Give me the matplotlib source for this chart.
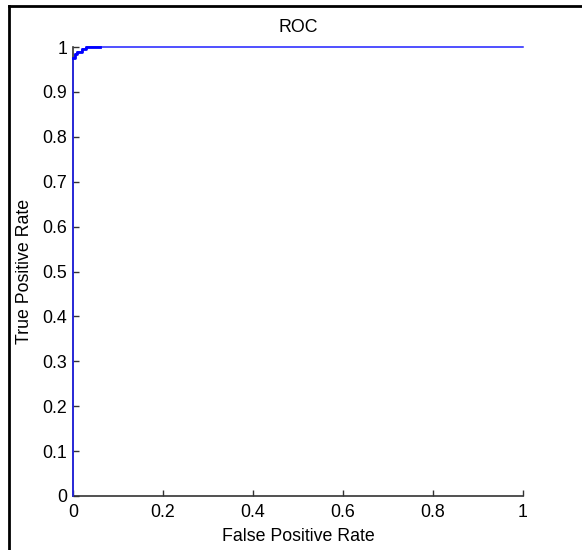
import matplotlib
matplotlib.use('Agg')
import matplotlib.pyplot as plt
from matplotlib.lines import Line2D

plt.rcParams['font.family'] = ['Liberation Sans', 'DejaVu Sans']

# ROC curve points (staircase near the top-left corner)
fpr = [0, 0, 0.005, 0.005, 0.01, 0.01, 0.02, 0.02, 0.03, 0.03, 0.06, 1]
tpr = [0, 0.975, 0.975, 0.985, 0.985, 0.99, 0.99, 0.995, 0.995, 1, 1, 1]

x_ticks = [0, 0.2, 0.4, 0.6, 0.8, 1]
y_ticks = [0, 0.1, 0.2, 0.3, 0.4, 0.5, 0.6, 0.7, 0.8, 0.9, 1]

fs = 12.8

fig = plt.figure(figsize=(5.82, 5.5), dpi=100)
ax = fig.add_axes([0.1254, 0.0982, 0.7732, 0.8163])

ax.plot(fpr, tpr, color='#2020ff', lw=1.1, zorder=3, clip_on=False)
# thicker staircase near the corner
ax.plot(fpr[1:-1], tpr[1:-1], color='#0000ff', lw=2.0, zorder=3, clip_on=False)

ax.set_xlim(0, 1)
ax.set_ylim(0, 1)
ax.set_xticks(x_ticks)
ax.set_yticks(y_ticks)
ax.set_xticklabels(['%g' % v for v in x_ticks])
ax.set_yticklabels(['%g' % v for v in y_ticks])
ax.tick_params(direction='in', length=4, width=1, labelsize=fs,
               colors='#333333', labelcolor='black', pad=4)
ax.tick_params(axis='x', pad=6)

for s in ['top', 'right']:
    ax.spines[s].set_visible(False)
for s in ['left', 'bottom']:
    ax.spines[s].set_color('#333333')
    ax.spines[s].set_linewidth(1.2)

ax.set_title('ROC', fontsize=fs, pad=11)
ax.set_xlabel('False Positive Rate', fontsize=fs, labelpad=5)
ax.set_ylabel('True Positive Rate', fontsize=fs, labelpad=7)

# black frame around the figure (top and left edges visible)
fig.add_artist(Line2D([0.0155, 0.0155], [0, 0.99], transform=fig.transFigure,
                      color='black', lw=2))
fig.add_artist(Line2D([0.0155, 1], [0.99, 0.99], transform=fig.transFigure,
                      color='black', lw=2))

fig.savefig('out.png', dpi=100)
